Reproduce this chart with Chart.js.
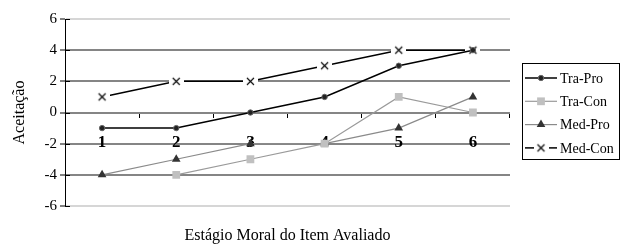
<!DOCTYPE html>
<html>
<head>
<meta charset="utf-8">
<script src="https://cdn.jsdelivr.net/npm/chart.js@4/dist/chart.umd.min.js"></script>
<style>
html,body{margin:0;padding:0;background:#fff;}
canvas{display:block;}
</style>
</head>
<body>
<canvas id="c" width="623" height="249"></canvas>
<script>
const categories = ['1','2','3','4','5','6'];
const seriesNames = ['Tra-Pro','Tra-Con','Med-Pro','Med-Con'];
const traPro = [-1, -1, 0, 1, 3, 4];
const traCon = [null, -4, -3, -2, 1, 0];
const medPro = [-4, -3, -2, -2, -1, 1];
const medCon = [1, 2, 2, 3, 4, 4];
const yTicks = [-6, -4, -2, 0, 2, 4, 6];
const xTitle = 'Estágio Moral do Item Avaliado';
const yTitle = 'Aceitação';

const SERIF = '"Liberation Serif", "Times New Roman", serif';

function xMark() {
  const c = document.createElement('canvas');
  c.width = 15; c.height = 15;
  const g = c.getContext('2d');
  g.fillStyle = '#fff';
  g.fillRect(0, 4, 15, 7);
  g.strokeStyle = '#000';
  g.lineWidth = 1.1;
  g.beginPath();
  g.moveTo(4, 4); g.lineTo(11, 11);
  g.moveTo(11, 4); g.lineTo(4, 11);
  g.stroke();
  return c;
}
const xImg = xMark();

const datasets = [
  { label: seriesNames[0], data: traPro, borderColor: '#000', borderWidth: 1.5,
    pointStyle: 'circle', pointRadius: 2.7, pointBackgroundColor: '#222', pointBorderColor: '#666', pointBorderWidth: 1 },
  { label: seriesNames[1], data: traCon, borderColor: '#9a9a9a', borderWidth: 1.2,
    pointStyle: 'rect', pointRadius: 5.5, pointBackgroundColor: '#c0c0c0', pointBorderColor: '#c0c0c0', pointBorderWidth: 0 },
  { label: seriesNames[2], data: medPro, borderColor: '#8a8a8a', borderWidth: 1.2,
    pointStyle: 'triangle', pointRadius: 5, pointBackgroundColor: '#333', pointBorderColor: '#333', pointBorderWidth: 0 },
  { label: seriesNames[3], data: medCon, borderColor: '#000', borderWidth: 1.5,
    pointStyle: xImg, pointRadius: 6, pointBackgroundColor: '#000', pointBorderColor: '#000' }
];
datasets.forEach(d => { d.tension = 0; d.fill = false; d.spanGaps = false; d.pointHoverRadius = d.pointRadius; });

const extras = {
  id: 'extras',
  afterDraw(chart) {
    const ctx = chart.ctx;
    const ys = chart.scales.y;
    const ca = chart.chartArea;
    ctx.save();
    // cross tick marks right of the value axis
    ctx.strokeStyle = '#000';
    ctx.lineWidth = 1;
    yTicks.forEach(v => {
      const py = Math.round(ys.getPixelForValue(v)) + 0.5;
      ctx.beginPath();
      ctx.moveTo(ca.left, py); ctx.lineTo(ca.left + 5, py);
      ctx.stroke();
    });
    // category axis title
    ctx.fillStyle = '#000';
    ctx.font = '16px ' + SERIF;
    ctx.textAlign = 'center';
    ctx.textBaseline = 'middle';
    ctx.fillText(xTitle, (ca.left + ca.right) / 2, 236);
    // legend box
    ctx.strokeRect(522.5, 63.5, 97, 96);
    chart.data.datasets.forEach((ds, i) => {
      const y = 78 + i * 23.3;
      ctx.strokeStyle = ds.borderColor;
      ctx.lineWidth = ds.borderWidth;
      ctx.beginPath();
      ctx.moveTo(525, y); ctx.lineTo(557, y);
      ctx.stroke();
      ctx.fillStyle = ds.pointBackgroundColor;
      ctx.strokeStyle = ds.pointBorderColor;
      ctx.lineWidth = ds.pointBorderWidth || 1;
      Chart.helpers.drawPoint(ctx, { pointStyle: ds.pointStyle, radius: ds.pointRadius, rotation: 0, borderWidth: ds.pointBorderWidth }, 541, y);
      ctx.fillStyle = '#000';
      ctx.font = '14px ' + SERIF;
      ctx.textBaseline = 'middle';
      ctx.textAlign = 'left';
      ctx.fillText(ds.label, 560, y + 1);
    });
    ctx.restore();
  }
};

new Chart(document.getElementById('c'), {
  type: 'line',
  data: { labels: categories, datasets: datasets },
  options: {
    responsive: false,
    animation: false,
    events: [],
    layout: { padding: { left: 0, right: 113, top: 19, bottom: 43 } },
    plugins: {
      legend: { display: false },
      tooltip: { enabled: false },
      title: { display: false }
    },
    scales: {
      x: {
        type: 'category',
        position: { y: 0 },
        offset: true,
        grid: { display: true, offset: true, drawOnChartArea: false, drawTicks: true, tickLength: 5, tickColor: '#000', tickWidth: 1 },
        border: { display: false },
        ticks: { color: '#000', font: { family: SERIF, size: 17, weight: 'bold' }, padding: 15, maxRotation: 0 }
      },
      y: {
        type: 'linear',
        min: -6, max: 6,
        afterFit(scale) { scale.width = 65; },
        afterBuildTicks(scale) { scale.ticks = yTicks.map(v => ({ value: v })); },
        grid: {
          color: ctx => (ctx.tick && (ctx.tick.value === 6 || ctx.tick.value === -6)) ? '#d6d6d6' : '#858585',
          lineWidth: 2,
          drawTicks: true, tickLength: 5, tickColor: '#000', tickWidth: 1
        },
        border: { display: true, color: '#000', width: 1 },
        ticks: { color: '#000', font: { family: SERIF, size: 15 }, padding: 3, callback: v => String(v) },
        title: { display: true, text: yTitle, color: '#000', font: { family: SERIF, size: 16 }, padding: { top: 10, bottom: 0 } }
      }
    }
  },
  plugins: [extras]
});
</script>
</body>
</html>
